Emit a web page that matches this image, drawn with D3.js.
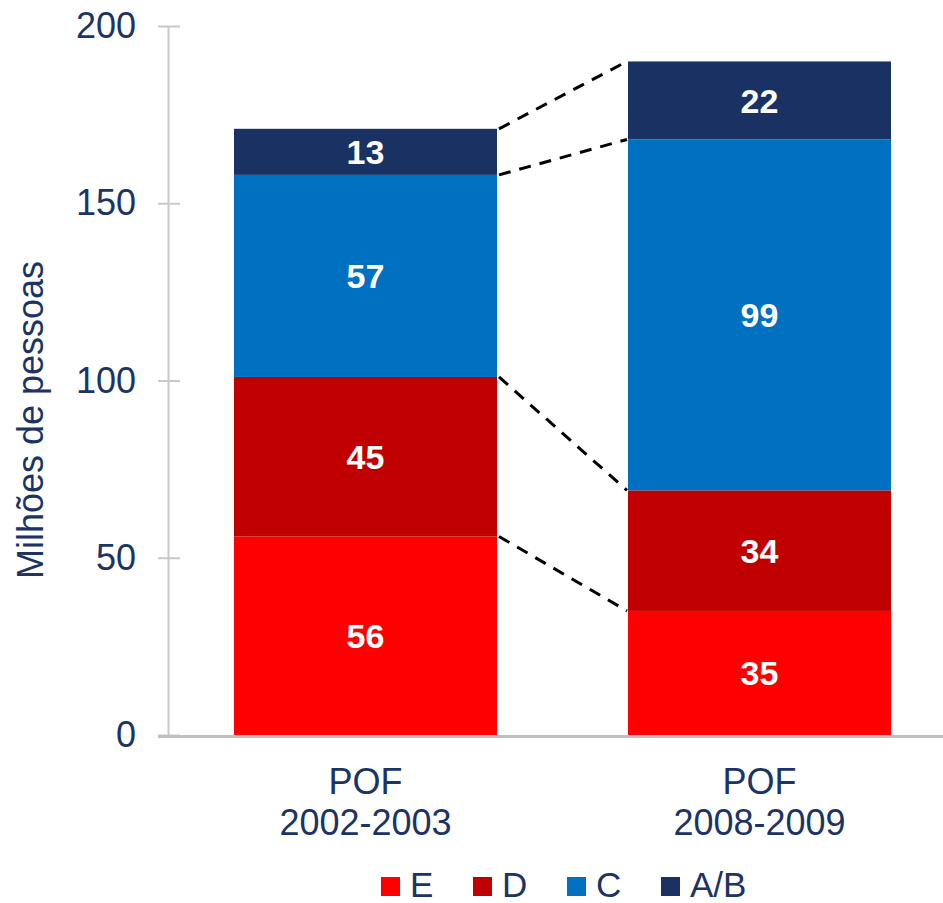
<!DOCTYPE html>
<html>
<head>
<meta charset="utf-8">
<script src="https://cdn.jsdelivr.net/npm/d3@7"></script>
<style>
    body { margin: 0; background: #ffffff; }
    text { font-family: "Liberation Sans", Arial, sans-serif; }
</style>
</head>
<body>
<div id="chart"></div>
<script>
// data (millions of people)
var periods = ["POF\n2002-2003", "POF\n2008-2009"]
var classes = ["E", "D", "C", "A/B"]
var valuesE = [56, 35]
var valuesD = [45, 34]
var valuesC = [57, 99]
var valuesAB = [13, 22]
var yTicks = [0, 50, 100, 150, 200]

var colors = ["#ff0000", "#c00000", "#0070c0", "#1a3263"]
var textColor = "#1b3465"

var width = 943, height = 903

var svg = d3.select("#chart")
    .append("svg")
    .attr("width", width)
    .attr("height", height)

var series = [valuesE, valuesD, valuesC, valuesAB]

// build rows for the stack
var rows = periods.map((p, i) => {
    var r = {period: p}
    classes.forEach((c, k) => { r[c] = series[k][i] })
    return r
})
var stacked = d3.stack().keys(classes)(rows)

var y = d3.scaleLinear().domain([0, 200]).range([735, 26])
var x = d3.scaleBand().domain(periods)
    .range([168, 957])
    .paddingInner(0.3325)
    .paddingOuter(0.1675)

// y axis
var yAxis = svg.append("g")
    .attr("transform", "translate(168,0)")
    .call(d3.axisLeft(y).tickValues(yTicks).tickSize(0).tickPadding(32))
yAxis.select(".domain").attr("stroke", "#c8c8c8").attr("stroke-width", 2)
yAxis.selectAll("text")
    .attr("font-size", "36px")
    .attr("fill", textColor)
    .attr("font-family", "Liberation Sans, Arial, sans-serif")
yAxis.selectAll(".tick").append("line")
    .attr("x1", -10).attr("x2", 12)
    .attr("stroke", "#c8c8c8").attr("stroke-width", 2)

// bars
var layers = svg.append("g").selectAll("g")
    .data(stacked)
    .enter().append("g")
    .attr("fill", (d, i) => colors[i])

layers.selectAll("rect")
    .data(d => d)
    .enter().append("rect")
    .attr("x", d => x(d.data.period))
    .attr("y", d => y(d[1]))
    .attr("width", x.bandwidth())
    .attr("height", d => y(d[0]) - y(d[1]))

// value labels
layers.selectAll("text")
    .data(d => d.map(v => ({v: v, key: d.key})))
    .enter().append("text")
    .attr("x", d => x(d.v.data.period) + x.bandwidth() / 2)
    .attr("y", d => (y(d.v[0]) + y(d.v[1])) / 2)
    .attr("dy", "0.36em")
    .attr("text-anchor", "middle")
    .attr("font-size", "34px")
    .attr("font-weight", "bold")
    .attr("fill", "white")
    .text(d => d.v.data[d.key])

// baseline
svg.append("line")
    .attr("x1", 158).attr("x2", width)
    .attr("y1", y(0) + 1.5).attr("y2", y(0) + 1.5)
    .attr("stroke", "#c0c0c0").attr("stroke-width", 3)

// dashed connectors between the tops of each segment
var x1 = x(periods[0]) + x.bandwidth() + 2
var x2 = x(periods[1]) - 1
svg.append("g").selectAll("line")
    .data(stacked)
    .enter().append("line")
    .attr("x1", x1)
    .attr("x2", x2)
    .attr("y1", d => y(d[0][1]))
    .attr("y2", d => y(d[1][1]))
    .attr("stroke", "black")
    .attr("stroke-width", 3)
    .attr("stroke-dasharray", "12,9")

// category labels
var cat = svg.append("g").selectAll("text")
    .data(periods)
    .enter().append("text")
    .attr("x", d => x(d) + x.bandwidth() / 2)
    .attr("y", 794)
    .attr("text-anchor", "middle")
    .attr("font-size", "36px")
    .attr("fill", textColor)
cat.selectAll("tspan")
    .data(d => d.split("\n").map(t => ({t: t, x: x(d) + x.bandwidth() / 2})))
    .enter().append("tspan")
    .attr("x", d => d.x)
    .attr("dy", (d, i) => i == 0 ? 0 : 41)
    .text(d => d.t)

// y label
svg.append("text")
    .attr("transform", "translate(43,420) rotate(-90)")
    .attr("text-anchor", "middle")
    .attr("font-size", "36px")
    .attr("fill", textColor)
    .text("Milhões de pessoas")

// legend
var legendX = [381, 473, 567, 661]
var legend = svg.append("g").selectAll("g")
    .data(classes)
    .enter().append("g")
    .attr("transform", (d, i) => "translate(" + legendX[i] + ",877)")
legend.append("rect")
    .attr("width", 19)
    .attr("height", 19)
    .attr("fill", (d, i) => colors[i])
legend.append("text")
    .attr("x", 29)
    .attr("y", 20)
    .attr("font-size", "35px")
    .attr("fill", textColor)
    .text(d => d)
</script>
</body>
</html>
